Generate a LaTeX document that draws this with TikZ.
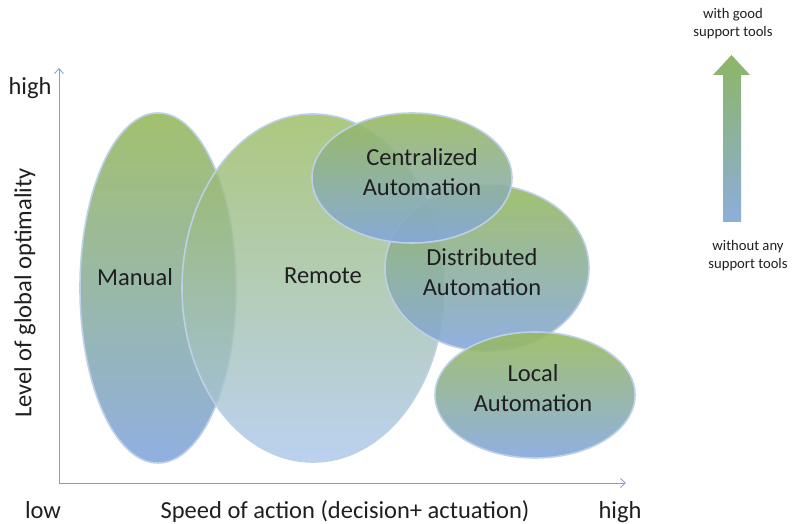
\documentclass[tikz,border=0pt]{standalone}
\usepackage{fontspec}
\setmainfont{Carlito}
\usetikzlibrary{shapes.geometric, arrows.meta, positioning}

\definecolor{ellgreen}{RGB}{152,186,94}
\definecolor{ellblue}{RGB}{132,167,222}
\definecolor{remblue}{RGB}{170,198,236}
\definecolor{rimblue}{RGB}{190,207,232}
\definecolor{axisblue}{RGB}{128,158,205}
\definecolor{arrgreen}{RGB}{140,182,100}
\definecolor{arrblue}{RGB}{140,174,220}

\begin{document}
\begin{tikzpicture}[x=1bp, y=1bp, >={Straight Barb[length=5pt,width=9pt]}]
  \tikzstyle{every node}=[font=\fontsize{24.6}{29.5}\selectfont, text=black!88]
  \tikzstyle{zone}=[ellipse, draw=rimblue, line width=1.6pt, inner sep=0pt, fill opacity=0.9, top color=ellgreen, bottom color=ellblue]
  \tikzstyle{small}=[font=\fontsize{14.7}{18}\selectfont, align=center]
  \useasboundingbox (0,0) rectangle (793,524);

  % axes
  \coordinate (O) at (59,41);
  \coordinate (ytop) at (59,456);
  \coordinate (xend) at (626,41);
  \draw[->, axisblue, line width=0.8pt] (O) -- (ytop);
  \draw[->, axisblue, line width=0.8pt] (O) -- (xend);
  \node (yhigh) at (30,436) {high};
  \node (xlow) at (43,14) {low};
  \node (xhigh) at (620,12) {high};
  \node (xlabel) at (345,12) {Speed of action (decision+ actuation)};
  \node[rotate=90] (ylabel) at (25,231) {Level of global optimality};

  % zones
  \node[zone, minimum width=156bp, minimum height=350bp] (manual) at (158,236) {};
  \node[zone, minimum width=262bp, minimum height=348bp, fill opacity=0.8, bottom color=remblue] (remote) at (313,236) {};
  \node[zone, minimum width=204bp, minimum height=166bp] (distrib) at (487,256) {};
  \node[zone, minimum width=200bp, minimum height=130bp] (central) at (412,346) {};
  \node[zone, minimum width=200bp, minimum height=126bp] (local) at (535,129) {};

  \node (manualtxt) at (135,247) {Manual};
  \node (remotetxt) at (323,248) {Remote};
  \node[align=center] (centraltxt) at (422,352) {Centralized\\Automation};
  \node[align=center] (distribtxt) at (482,252) {Distributed\\Automation};
  \node[align=center] (localtxt) at (533,136) {Local\\Automation};

  % support tools arrow
  \shade[top color=arrgreen, middle color=arrblue!80!arrgreen, bottom color=arrblue]
    (723,302) -- (741,302) -- (741,449) -- (750,449) -- (731.5,469)
    -- (713,449) -- (723,449) -- cycle;
  \node[small] (good) at (733,500) {with good\\support tools};
  \node[small] (without) at (748,268) {without any\\support tools};
\end{tikzpicture}
\end{document}
